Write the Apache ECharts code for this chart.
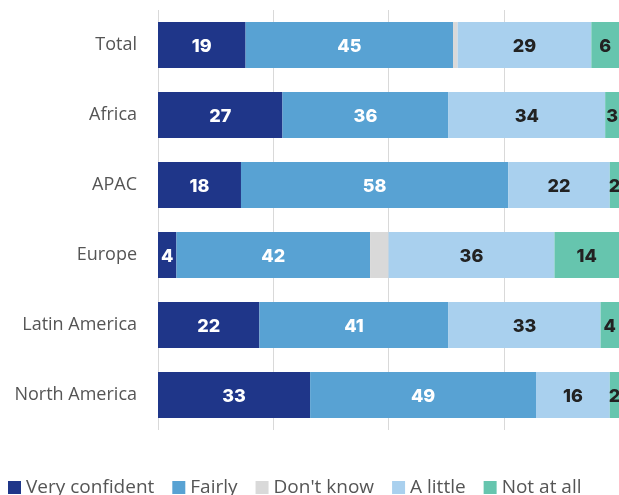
<!DOCTYPE html>
<html>
<head>
<meta charset="utf-8">
<script src="https://cdn.jsdelivr.net/npm/echarts@6/dist/echarts.min.js"></script>
<style>
  html, body { margin: 0; padding: 0; background: #fff; }
  #chart { width: 619px; height: 495px; }
</style>
</head>
<body>
<div id="chart"></div>
<script>
// Confidence by region, share of respondents (%)
const regions = ['Total', 'Africa', 'APAC', 'Europe', 'Latin America', 'North America'];
const veryConfident = [19, 27, 18, 4, 22, 33];
const fairly = [45, 36, 58, 42, 41, 49];
const dontKnow = [1, 0, 0, 4, 0, 0];
const aLittle = [29, 34, 22, 36, 33, 16];
const notAtAll = [6, 3, 2, 14, 4, 2];
const xTicks = [0, 25, 50, 75, 100];

const seriesDefs = [
  { name: 'Very confident', data: veryConfident, color: '#1f3689', text: '#ffffff', label: true },
  { name: 'Fairly', data: fairly, color: '#58a2d3', text: '#ffffff', label: true },
  { name: "Don't know", data: dontKnow, color: '#d9d9d9', text: '#222222', label: false },
  { name: 'A little', data: aLittle, color: '#a9d0ee', text: '#222222', label: true },
  { name: 'Not at all', data: notAtAll, color: '#66c5ae', text: '#222222', label: true }
];

const chart = echarts.init(document.getElementById('chart'), null, { renderer: 'canvas' });

chart.setOption({
  animation: false,
  grid: { left: 158, top: 10, width: 464, height: 420, containLabel: false },
  xAxis: {
    type: 'value',
    min: xTicks[0],
    max: xTicks[xTicks.length - 1],
    interval: xTicks[1] - xTicks[0],
    axisLine: { show: false },
    axisTick: { show: false },
    axisLabel: { show: false },
    splitLine: { show: true, lineStyle: { color: '#d9d9d9', width: 1 } }
  },
  yAxis: {
    type: 'category',
    data: regions,
    inverse: true,
    axisLine: { show: false },
    axisTick: { show: false },
    axisLabel: {
      margin: 21,
      color: '#555555',
      fontFamily: 'Open Sans',
      fontSize: 18
    }
  },
  legend: {
    left: 8,
    top: 478,
    padding: 0,
    icon: 'rect',
    itemWidth: 13,
    itemHeight: 13,
    itemGap: 18,
    textStyle: { color: '#555555', fontFamily: 'Open Sans', fontSize: 19 },
    data: seriesDefs.map(s => s.name)
  },
  series: seriesDefs.map(s => ({
    name: s.name,
    type: 'bar',
    stack: 'total',
    barWidth: 46,
    data: s.data,
    itemStyle: { color: s.color },
    label: {
      show: s.label,
      position: 'inside',
      offset: [0, 2],
      color: s.text,
      fontFamily: 'Inter',
      fontWeight: 800,
      fontSize: 18,
      formatter: p => (p.value > 0 ? String(p.value) : '')
    }
  }))
});
</script>
</body>
</html>
